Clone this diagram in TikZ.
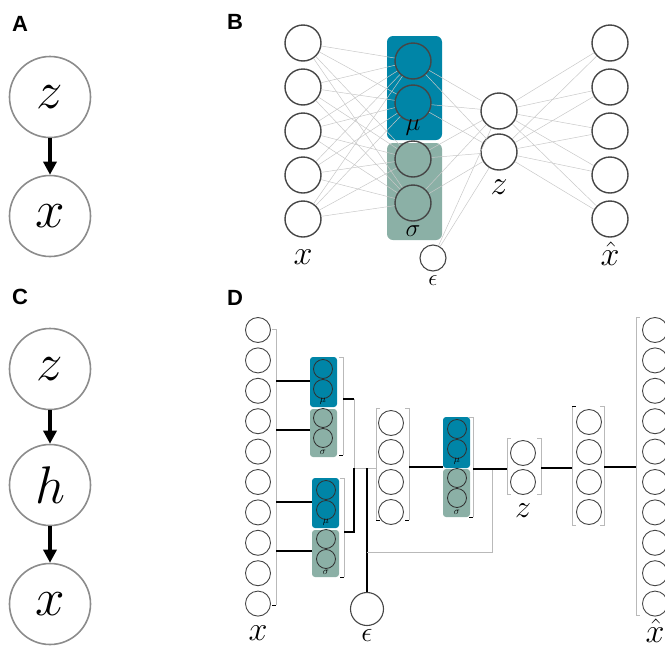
\RequirePackage{fix-cm}
\documentclass[tikz,border=0pt]{standalone}
\usepackage{fontspec}
\setsansfont{Liberation Sans}
\usetikzlibrary{arrows.meta}
\definecolor{vblue}{RGB}{0,133,167}
\definecolor{vgreen}{RGB}{139,176,166}
\definecolor{ring}{RGB}{140,140,140}
\definecolor{dark}{RGB}{70,70,70}
\definecolor{wirec}{RGB}{200,200,200}
\definecolor{brk}{RGB}{185,185,185}
\begin{document}
\begin{tikzpicture}[x=1pt,y=-1pt,
 pgm/.style={circle,draw=ring,line width=1.6pt,minimum size=81pt,inner sep=0pt,font=\fontsize{53}{53}\selectfont},
 pgmarrow/.style={line width=3.5pt,-{Triangle[length=13pt,width=13pt]}},
 bunit/.style={circle,draw=dark,line width=1.4pt,minimum size=36pt,inner sep=0pt},
 dunit/.style={circle,draw=dark,line width=0.9pt,minimum size=25pt,inner sep=0pt},
 sunit/.style={circle,draw=dark!70!black,line width=0.8pt,minimum size=19pt,inner sep=0pt},
 wire/.style={draw=wirec,line width=0.5pt},
 panel/.style={font=\sffamily\bfseries\fontsize{22}{22}\selectfont},
 blk/.style={draw=black,line width=1.1pt},
 gry/.style={draw=brk,line width=1pt},
 lbl/.style={inner sep=0pt},
]
\useasboundingbox (0,0) rectangle (665,646);

% ---------------- Panel A
\node[panel] (la) at (20,24) {A};
\node[pgm] (az) at (50,97) {$z$};
\node[pgm] (ax) at (50,216) {$x$};
\draw[pgmarrow] (az) -- (ax);

% ---------------- Panel C
\node[panel] (lc) at (20,297) {C};
\node[pgm] (cz) at (50,369) {$z$};
\node[pgm] (ch) at (50,485) {$h$};
\node[pgm] (cx) at (50,604) {$x$};
\draw[pgmarrow] (cz) -- (ch);
\draw[pgmarrow] (ch) -- (cx);

% ---------------- Panel B
\node[panel] (lb) at (235,22) {B};
\fill[vblue,rounded corners=6pt] (387,36) rectangle (442,140);
\fill[vgreen,rounded corners=6pt] (387,143) rectangle (442,240);
\foreach \i/\y in {1/43,2/87,3/131,4/175,5/219}{
  \node[bunit] (bx\i) at (303,\y) {};
  \node[bunit] (bxh\i) at (610,\y) {};
}
\node[bunit] (bm1) at (413,61) {};
\node[bunit] (bm2) at (413,103) {};
\node[bunit] (bs1) at (413,159) {};
\node[bunit] (bs2) at (413,203) {};
\node[bunit] (bz1) at (499,111) {};
\node[bunit] (bz2) at (499,152) {};
\node[circle,draw=dark,line width=1.1pt,minimum size=26pt,inner sep=0pt] (beps) at (433,258) {};
\node[lbl,font=\fontsize{34}{34}\selectfont] (bxl) at (303,257) {$x$};
\node[lbl,font=\fontsize{34}{34}\selectfont] (bzl) at (499,187) {$z$};
\node[lbl,font=\fontsize{25}{25}\selectfont] (bml) at (413,128) {$\mu$};
\node[lbl,font=\fontsize{25}{25}\selectfont] (bsl) at (413,231) {$\sigma$};
\node[lbl,font=\fontsize{23}{23}\selectfont] (bel) at (433,281) {$\epsilon$};
\node[lbl,font=\fontsize{34}{34}\selectfont] (bxhl) at (610,254) {$\hat{x}$};
\foreach \a in {1,...,5}{
  \foreach \b in {bm1,bm2,bs1,bs2}{\draw[wire] (bx\a) -- (\b);}
}
\foreach \a in {bm1,bm2,bs1,bs2,beps}{
  \foreach \b in {bz1,bz2}{\draw[wire] (\a) -- (\b);}
}
\foreach \a in {bz1,bz2}{
  \foreach \b in {1,...,5}{\draw[wire] (\a) -- (bxh\b);}
}

% ---------------- Panel D
\node[panel] (ld) at (235,298) {D};
\foreach \i in {0,...,9}{
  \node[dunit] (dx\i) at (258,{330+30.4*\i}) {};
  \node[dunit] (dxh\i) at (655,{330+30.4*\i}) {};
}
% x bracket
\draw[gry] (272,329) -- (276,329) -- (276,605);
\draw[blk,line width=0.8pt] (276,605) -- (272,605);
% box 1
\fill[vblue,rounded corners=3pt] (310,357) rectangle (337,407);
\fill[vgreen,rounded corners=3pt] (310,409) rectangle (337,457);
\node[sunit] (d1m1) at (323,369) {};
\node[sunit] (d1m2) at (323,389) {};
\node[sunit] (d1s1) at (323,418) {};
\node[sunit] (d1s2) at (323,438) {};
\node[lbl,font=\fontsize{10}{10}\selectfont] (d1ml) at (323,401) {$\mu$};
\node[lbl,font=\fontsize{10}{10}\selectfont] (d1sl) at (323,452) {$\sigma$};
\draw[gry] (339,357) -- (343,357) -- (343,455);
\draw[blk,line width=0.8pt] (343,455) -- (339,455);
% box 2
\fill[vblue,rounded corners=3pt] (312,478) rectangle (339,528);
\fill[vgreen,rounded corners=3pt] (312,530) rectangle (339,577);
\node[sunit] (d2m1) at (326,490) {};
\node[sunit] (d2m2) at (326,510) {};
\node[sunit] (d2s1) at (326,539) {};
\node[sunit] (d2s2) at (326,559) {};
\node[lbl,font=\fontsize{10}{10}\selectfont] (d2ml) at (326,522) {$\mu$};
\node[lbl,font=\fontsize{10}{10}\selectfont] (d2sl) at (326,572) {$\sigma$};
\draw[gry] (340,478) -- (344,478) -- (344,577);
\draw[blk,line width=0.8pt] (344,577) -- (340,577);
% hidden column 1
\foreach \i/\y in {1/423,2/452,3/482,4/512}{\node[dunit] (dh\i) at (391,\y) {};}
\draw[gry] (380,408) -- (376,408) -- (376,520);
\draw[blk,line width=0.8pt] (376,520) -- (380,520);
\draw[gry] (405,408) -- (409,408) -- (409,520);
\draw[blk,line width=0.8pt] (409,520) -- (405,520);
% box 3
\fill[vblue,rounded corners=3pt] (443,417) rectangle (470,468);
\fill[vgreen,rounded corners=3pt] (443,469) rectangle (470,517);
\node[sunit] (d3m1) at (457,429) {};
\node[sunit] (d3m2) at (457,449) {};
\node[sunit] (d3s1) at (457,478) {};
\node[sunit] (d3s2) at (457,498) {};
\node[lbl,font=\fontsize{10}{10}\selectfont] (d3ml) at (457,461) {$\mu$};
\node[lbl,font=\fontsize{10}{10}\selectfont] (d3sl) at (457,512) {$\sigma$};
\draw[gry] (469,417) -- (473,417) -- (473,517);
\draw[blk,line width=0.8pt] (473,517) -- (469,517);
% z column
\node[dunit] (dz1) at (523,453) {};
\node[dunit] (dz2) at (523,482) {};
\draw[gry] (511,438) -- (507,438) -- (507,494) -- (511,494);
\draw[gry] (537,438) -- (541,438) -- (541,494) -- (537,494);
\node[lbl,font=\fontsize{32}{32}\selectfont] (dzl) at (523,511) {$z$};
% hidden column 2
\foreach \i/\y in {1/422,2/452,3/482,4/512}{\node[dunit] (dg\i) at (589,\y) {};}
\draw[gry] (576,406) -- (572,406) -- (572,525) -- (576,525);
\draw[blk,line width=0.8pt] (572,406) -- (576,406);
\draw[gry] (600,406) -- (604,406) -- (604,525) -- (600,525);
% x-hat bracket
\draw[gry] (640,317) -- (636,317) -- (636,615) -- (640,615);
% epsilon
\node[circle,draw=dark,line width=1.1pt,minimum size=33pt,inner sep=0pt] (deps) at (367,609) {};
\node[lbl,font=\fontsize{28}{28}\selectfont] (del) at (367,635) {$\epsilon$};
\node[lbl,font=\fontsize{34}{34}\selectfont] (dxl) at (258,633) {$x$};
\node[lbl,font=\fontsize{34}{34}\selectfont] (dxhl) at (655,631) {$\hat{x}$};
% connectors
\coordinate (j1) at (354,399);
\coordinate (j2) at (354,468);
\coordinate (j3) at (354,532);
\coordinate (je) at (367,468);
\coordinate (jg) at (367,552);
\coordinate (jz) at (492,469);
\draw[blk] (276,381) -- (310,381);
\draw[blk] (276,430) -- (310,430);
\draw[blk] (276,502) -- (312,502);
\draw[blk] (276,551) -- (312,551);
\draw[blk] (343,399) -- (j1);
\draw[gry] (j1) -- (j2) -- (376,468);
\draw[blk] (j2) -- (j3) -- (344,532);
\draw[blk] (je) -- (deps);
\draw[gry] (jg) -- (jg -| jz) -- (jz);
\draw[blk] (409,467) -- (443,467);
\draw[blk] (473,469) -- (507,469);
\draw[blk] (541,468) -- (572,468);
\draw[blk] (604,467) -- (636,467);
\end{tikzpicture}
\end{document}
